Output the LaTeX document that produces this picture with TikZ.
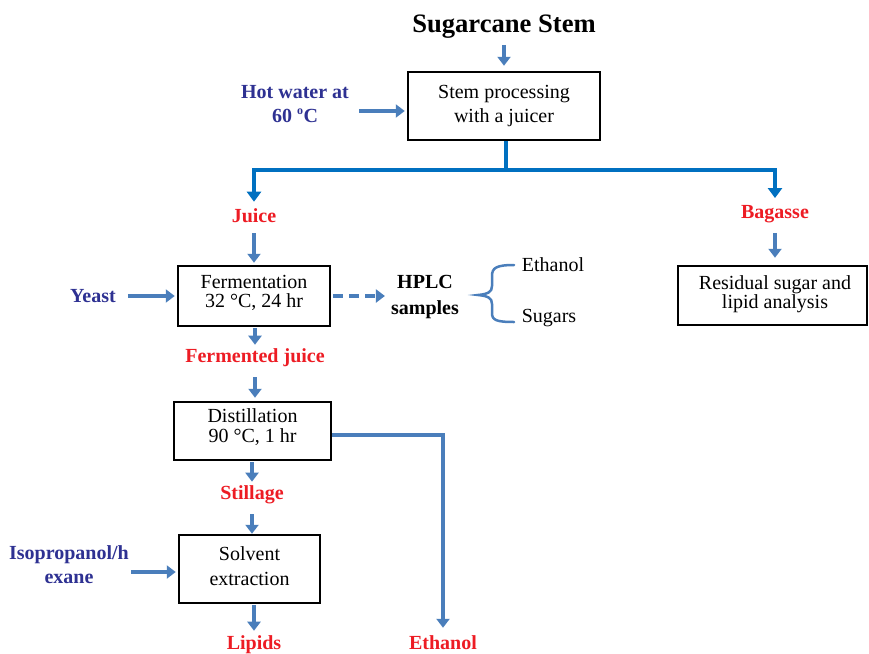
\documentclass[tikz,border=0pt]{standalone}
\usepackage{fontspec}
\setmainfont{Liberation Serif}
\usetikzlibrary{arrows.meta,calc}
\definecolor{lb}{RGB}{74,126,187}
\definecolor{db}{RGB}{0,112,192}
\definecolor{tb}{RGB}{46,49,146}
\definecolor{tr}{RGB}{237,28,36}
\begin{document}
\begin{tikzpicture}[x=1pt,y=-1pt,
  txt/.style={font=\fontsize{20}{23}\selectfont,align=center,inner sep=2pt},
  lbl/.style={txt,font=\bfseries\fontsize{20}{24}\selectfont},
  box/.style={draw=black,line width=2.5pt,inner sep=0pt},
  arr/.style={draw=lb,line width=4pt,-{Triangle[length=9pt,width=13pt]}},
  mainline/.style={draw=db,line width=4pt},
  mainarr/.style={mainline,-{Triangle[length=10pt,width=14pt]}}]
\useasboundingbox (0,0) rectangle (869,653);
% nodes
\node[font=\bfseries\fontsize{26.6}{30}\selectfont,inner sep=2pt] (title) at (504,27) {Sugarcane Stem};
\node[box,minimum width=192pt,minimum height=68pt] (juicer) at (504,106) {};
\node[txt,font=\fontsize{20}{24}\selectfont] (juicertxt) at (504,106) {Stem processing\\with a juicer};
\node[lbl,text=tb] (hot) at (295,104) {Hot water at\\60 \textsuperscript{\fontsize{12}{12}\selectfont o}C};
\node[lbl,text=tr] (juice) at (254,216) {Juice};
\node[lbl,text=tr] (bagasse) at (775,214) {Bagasse};
\node[box,minimum width=152pt,minimum height=60pt] (ferm) at (254,296) {};
\node[txt,font=\fontsize{20}{19}\selectfont] (fermtxt) at (254,293) {Fermentation\\32 °C, 24 hr};
\node[lbl,text=tb] (yeast) at (93,296) {Yeast};
\node[lbl,text=black,font=\bfseries\fontsize{20}{26}\selectfont] (hplc) at (425,297) {HPLC\\samples};
\node[txt] (eth1) at (553,265) {Ethanol};
\node[txt] (sug) at (549,318) {Sugars};
\node[box,minimum width=189pt,minimum height=59pt] (resid) at (772.5,295.5) {};
\node[txt,font=\fontsize{20}{19}\selectfont] (residtxt) at (775,294) {Residual sugar and\\lipid analysis};
\node[lbl,text=tr] (fj) at (255,358) {Fermented juice};
\node[box,minimum width=157pt,minimum height=58pt] (dist) at (252.5,431) {};
\node[txt,font=\fontsize{20}{20}\selectfont] (disttxt) at (252.5,427) {Distillation\\90 °C, 1 hr};
\node[lbl,text=tr] (still) at (252,495) {Stillage};
\node[box,minimum width=141pt,minimum height=68pt] (solv) at (249.5,569) {};
\node[txt,font=\fontsize{20}{25}\selectfont] (solvtxt) at (249.5,566) {Solvent\\extraction};
\node[lbl,text=tb] (iso) at (69,565) {Isopropanol/h\\exane};
\node[lbl,text=tr] (lipids) at (254,645) {Lipids};
\node[lbl,text=tr] (eth2) at (443,643) {Ethanol};
% connectors
\draw[arr,shorten <=4pt,shorten >=5pt] (title.south -| juicer.north) -- (juicer.north);
\draw[arr,shorten <=8pt,shorten >=2pt] ($(hot.east)+(0,7)$) -- ($(juicer.west)+(0,5)$);
\coordinate (split) at (506,170);
\draw[mainline] (juicer.south -| split) -- (split);
\draw[mainarr,shorten >=5pt] (split) -| (juice.north);
\draw[mainarr,shorten >=5pt] (split) -| (bagasse.north);
\draw[arr,shorten <=8pt,shorten >=2pt] (juice.south) -- (juice.south |- ferm.north);
\draw[arr,shorten <=10pt,shorten >=2pt] (yeast.east) -- (yeast.east -| ferm.west);
\draw[arr,dash pattern=on 10pt off 6pt,shorten <=2pt,shorten >=4pt] (ferm.east) -- (ferm.east -| hplc.west);
\draw[lb,line width=2.5pt,line cap=round] (514,265) .. controls (496,265) and (492,268) .. (492,276) -- (492,286) .. controls (492,292) and (488,294) .. (478,295) .. controls (488,296) and (492,298) .. (492,304) -- (492,313) .. controls (492,320) and (496,322) .. (514,322);
\draw[arr,shorten <=8pt,shorten >=7pt] (bagasse.south) -- (bagasse.south |- resid.north);
\draw[arr,shorten <=1pt,shorten >=2pt] (ferm.south -| fj.north) -- (fj.north);
\draw[arr,shorten <=8pt,shorten >=3pt] (fj.south) -- (fj.south |- dist.north);
\draw[arr,shorten >=6pt] ($(dist.east)+(0,4)$) -| (eth2.north);
\draw[arr,shorten <=1pt,shorten >=2pt] (dist.south -| still.north) -- (still.north);
\draw[arr,shorten <=8pt,shorten >=0pt] (still.south) -- (still.south |- solv.north);
\draw[arr,shorten <=0pt,shorten >=2pt] ($(iso.east)+(0,7)$) -- ($(solv.west)+(0,3)$);
\draw[arr,shorten <=1pt,shorten >=3pt] (solv.south -| lipids.north) -- (lipids.north);
\end{tikzpicture}
\end{document}
